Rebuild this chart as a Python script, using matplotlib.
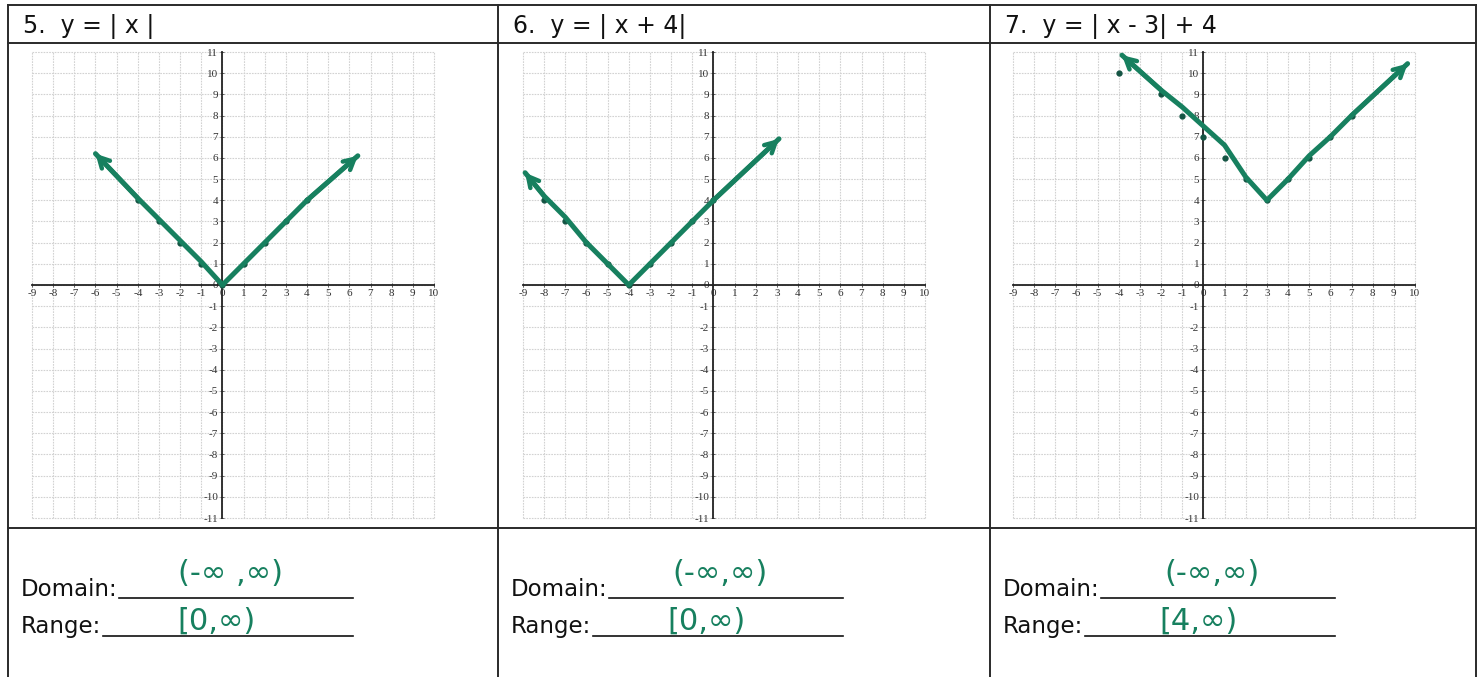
import matplotlib
matplotlib.use("Agg")
import matplotlib.pyplot as plt
from matplotlib.ticker import FixedLocator, FixedFormatter

# worksheet values
x_ticks = list(range(-9, 11))
y_ticks = list(range(-11, 12))

titles = ['5.  y = | x |', '6.  y = | x + 4|', '7.  y = | x - 3| + 4']

# hand-drawn V lines (first and last points are the arrow tips)
p5_x = [-6.0, -4, -3, -2, -1, 0, 1, 2, 3, 4, 6.4]
p5_y = [6.2, 4.1, 3.1, 2.1, 1.1, 0, 1, 2, 3, 4, 6.1]
p6_x = [-8.9, -8, -7, -6, -5, -4, -3, -2, -1, 0, 3.1]
p6_y = [5.3, 4.2, 3.2, 2.0, 1.0, 0.0, 1.0, 2.0, 3.0, 4.0, 6.9]
p7_x = [-3.85, -2, -1, 0, 1, 2, 3, 4, 5, 6, 7, 9.65]
p7_y = [10.85, 9.2, 8.4, 7.5, 6.6, 5.1, 4.0, 5.0, 6.1, 7.0, 8.0, 10.45]

# plotted table points
d5_x = [-4, -3, -2, -1, 0, 1, 2, 3, 4]
d5_y = [4, 3, 2, 1, 0, 1, 2, 3, 4]
d6_x = [-8, -7, -6, -5, -4, -3, -2, -1, 0]
d6_y = [4, 3, 2, 1, 0, 1, 2, 3, 4]
d7_x = [-4, -2, -1, 0, 1, 2, 3, 4, 5, 6, 7]
d7_y = [10, 9, 8, 7, 6, 5, 4, 5, 6, 7, 8]

domains = ['(-\u221e ,\u221e)', '(-\u221e,\u221e)', '(-\u221e,\u221e)']
ranges = ['[0,\u221e)', '[0,\u221e)', '[4,\u221e)']

lines = [(p5_x, p5_y), (p6_x, p6_y), (p7_x, p7_y)]
dots = [(d5_x, d5_y), (d6_x, d6_y), (d7_x, d7_y)]

W, H = 1482, 677
pen = '#17805f'
ink = '#2a2a2a'

fig = plt.figure(figsize=(W / 100, H / 100), dpi=100)
fig.patch.set_facecolor('white')

# page layer in pixel coordinates
page = fig.add_axes([0, 0, 1, 1])
page.set_xlim(0, W)
page.set_ylim(H, 0)
page.axis('off')

panel_left = [8, 498, 990]
panel_right = 1476
grid_left = [32, 523, 1013]
grid_top, grid_bottom = 52, 518
grid_w = 402

# table borders
for x in panel_left + [panel_right]:
    page.plot([x, x], [5, H], color=ink, lw=1.4)
for y in [5, 43, 528]:
    page.plot([panel_left[0], panel_right], [y, y], color=ink, lw=1.4)

for i in range(3):
    left = panel_left[i]
    page.text(left + 15, 33, titles[i], fontsize=17, color='#111111',
              family='DejaVu Sans', va='baseline', ha='left')

    page.text(left + 13, 596, 'Domain:', fontsize=16.5, color='#111111',
              va='baseline', ha='left')
    page.plot([left + 111, left + 345], [598, 598], color='#111111', lw=1.2)
    page.text(left + 13, 633, 'Range:', fontsize=16.5, color='#111111',
              va='baseline', ha='left')
    page.plot([left + 95, left + 345], [636, 636], color='#111111', lw=1.2)

    page.text(left + 222, 574, domains[i], fontsize=22, color=pen,
              ha='center', va='center')
    page.text(left + 208, 621, ranges[i], fontsize=22, color=pen,
              ha='center', va='center')

    # coordinate grid
    ax = fig.add_axes([grid_left[i] / W, 1 - grid_bottom / H,
                       grid_w / W, (grid_bottom - grid_top) / H])
    ax.set_xlim(x_ticks[0], x_ticks[-1])
    ax.set_ylim(y_ticks[0], y_ticks[-1])
    ax.patch.set_alpha(0)
    for s in ['top', 'right']:
        ax.spines[s].set_visible(False)
    ax.spines['left'].set_position('zero')
    ax.spines['bottom'].set_position('zero')
    for s in ['left', 'bottom']:
        ax.spines[s].set_color('#222222')
        ax.spines[s].set_linewidth(1.3)
    ax.xaxis.set_major_locator(FixedLocator(x_ticks))
    ax.xaxis.set_major_formatter(FixedFormatter([str(v) for v in x_ticks]))
    ax.yaxis.set_major_locator(FixedLocator(y_ticks))
    ax.yaxis.set_major_formatter(FixedFormatter([str(v) for v in y_ticks]))
    ax.tick_params(direction='inout', length=3, width=0.6, color='#444444',
                   labelsize=8, labelcolor='#333333', pad=1.5)
    for lab in ax.get_xticklabels() + ax.get_yticklabels():
        lab.set_family('Liberation Serif')
    ax.grid(True, color='#d2d2d2', lw=0.8, linestyle=(0, (1.5, 1)))
    for gl in ax.get_xgridlines() + ax.get_ygridlines():
        gl.set_clip_on(False)
    ax.set_axisbelow(True)

    lx, ly = lines[i]
    ax.plot(dots[i][0], dots[i][1], 'o', ms=3.5, color='#145443', zorder=3)
    ax.plot(lx, ly, color=pen, lw=3.6, solid_capstyle='round',
            solid_joinstyle='round', zorder=4, clip_on=False)
    for a, b in [(1, 0), (-2, -1)]:
        ax.annotate('', xy=(lx[b], ly[b]), xytext=(lx[a], ly[a]),
                    arrowprops=dict(arrowstyle='->,head_length=0.75,head_width=0.4',
                                    color=pen, lw=3.2, shrinkA=0, shrinkB=0,
                                    capstyle='round', joinstyle='round'),
                    zorder=5, annotation_clip=False)

fig.savefig('out.png', dpi=100)
